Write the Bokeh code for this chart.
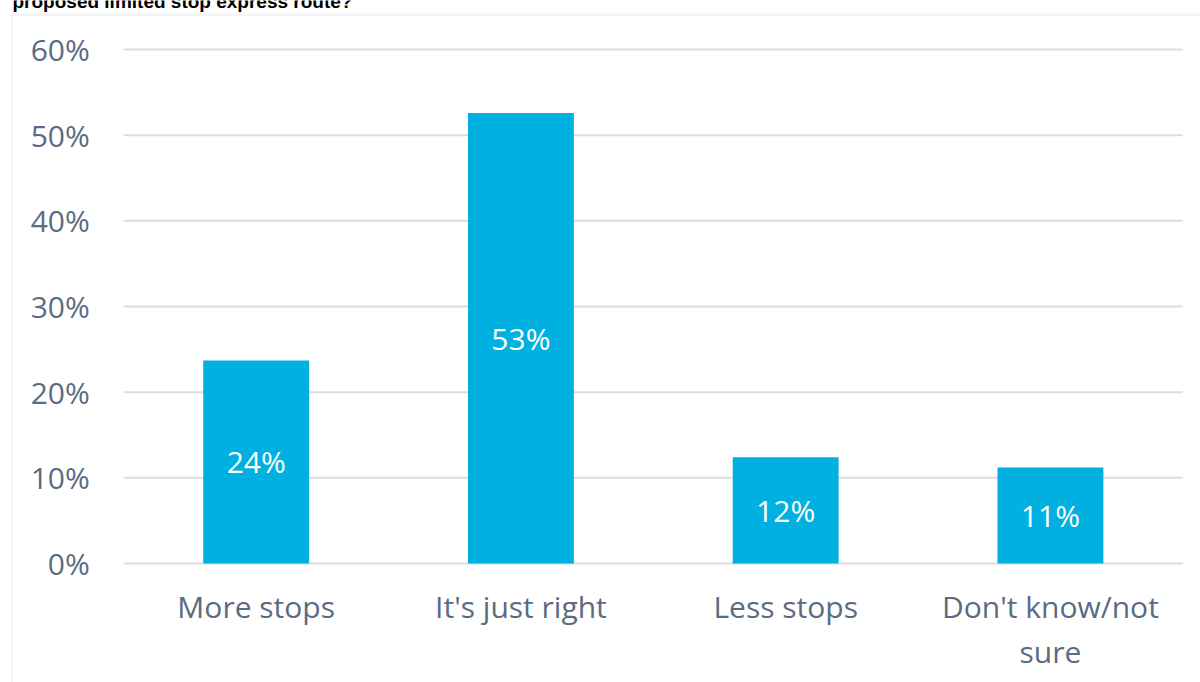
from bokeh.plotting import figure
from bokeh.models import (ColumnDataSource, Range1d, NumeralTickFormatter,
                          FixedTicker, Label, LabelSet, LinearAxis, BoxAnnotation)
from bokeh.core.properties import value
from bokeh.embed import file_html
from bokeh.resources import INLINE

# ---- data ----
categories = ["More stops", "It's just right", "Less stops", "Don't know/not\nsure"]
shares = [0.237, 0.526, 0.124, 0.112]
y_ticks = [0.0, 0.1, 0.2, 0.3, 0.4, 0.5, 0.6]
title_text = "proposed limited stop express route?"

idx = list(range(len(categories)))
bar_labels = [f"{round(v * 100)}%" for v in shares]
mid = [v / 2 for v in shares]

TEXT = "#5B6B82"
GRID = "#D9DDE5"
BORDER = "#D3DBE5"
BAR = "#00B0E0"
FONT = "Open Sans"
FS = "30px"

x_lo, x_hi = -0.5, len(categories) - 0.5   # plot-area extent in category units

src = ColumnDataSource(dict(x=idx, v=shares, lab=bar_labels, mid=mid))

p = figure(width=1200, height=682, output_backend="svg", toolbar_location=None,
           x_range=Range1d(-0.928, 3.5669), y_range=Range1d(-0.1389, 0.6572),
           min_border_left=10, min_border_right=0, min_border_top=0,
           min_border_bottom=0, outline_line_color=None, x_axis_type=None,
           y_axis_type=None)
p.xgrid.visible = False
p.ygrid.visible = False

# outer chart border (only its left and top edges fall inside the picture)
p.add_layout(BoxAnnotation(left=1.5, top=668, right=3000, bottom=-3000,
                           left_units="screen", right_units="screen",
                           top_units="screen", bottom_units="screen",
                           fill_alpha=0, line_color=BORDER, line_width=2.5))

# horizontal gridlines across the plot area only
p.segment(x0=[x_lo] * len(y_ticks), x1=[x_hi] * len(y_ticks), y0=y_ticks, y1=y_ticks,
          line_color=GRID, line_width=2)

p.vbar(x="x", top="v", bottom=0, width=0.4, source=src, fill_color=BAR, line_color=None)

labels = LabelSet(x="x", y="mid", text="lab", source=src, text_align="center",
                  text_baseline="middle", text_color="white", text_font=value(FONT),
                  text_font_size=FS)
p.add_layout(labels)

# y axis, fixed at the left edge of the plot area
yax = LinearAxis(ticker=FixedTicker(ticks=y_ticks),
                 formatter=NumeralTickFormatter(format="0%"), fixed_location=x_lo)
yax.axis_line_color = None
yax.major_tick_line_color = None
yax.minor_tick_line_color = None
yax.major_label_standoff = 28
yax.major_label_text_font = FONT
yax.major_label_text_font_size = FS
yax.major_label_text_color = TEXT
p.add_layout(yax, "left")

# x axis with category names, fixed at y = 0
xax = LinearAxis(ticker=FixedTicker(ticks=idx), fixed_location=0,
                 major_label_overrides={i: c for i, c in zip(idx, categories)})
xax.axis_line_color = None
xax.major_tick_line_color = None
xax.minor_tick_line_color = None
xax.major_label_standoff = 16
xax.major_label_text_font = FONT
xax.major_label_text_font_size = FS
xax.major_label_text_color = TEXT
xax.major_label_text_line_height = 1.1
p.add_layout(xax, "below")

# chart title, cropped at the top of the picture as in the source image
title = Label(x=2, y=681, x_units="screen", y_units="screen", text=title_text,
              text_font="Liberation Sans", text_font_style="bold",
              text_font_size="19px", text_color="black", text_baseline="alphabetic")
p.add_layout(title)

open("out.html", "w").write(file_html(p, INLINE))
